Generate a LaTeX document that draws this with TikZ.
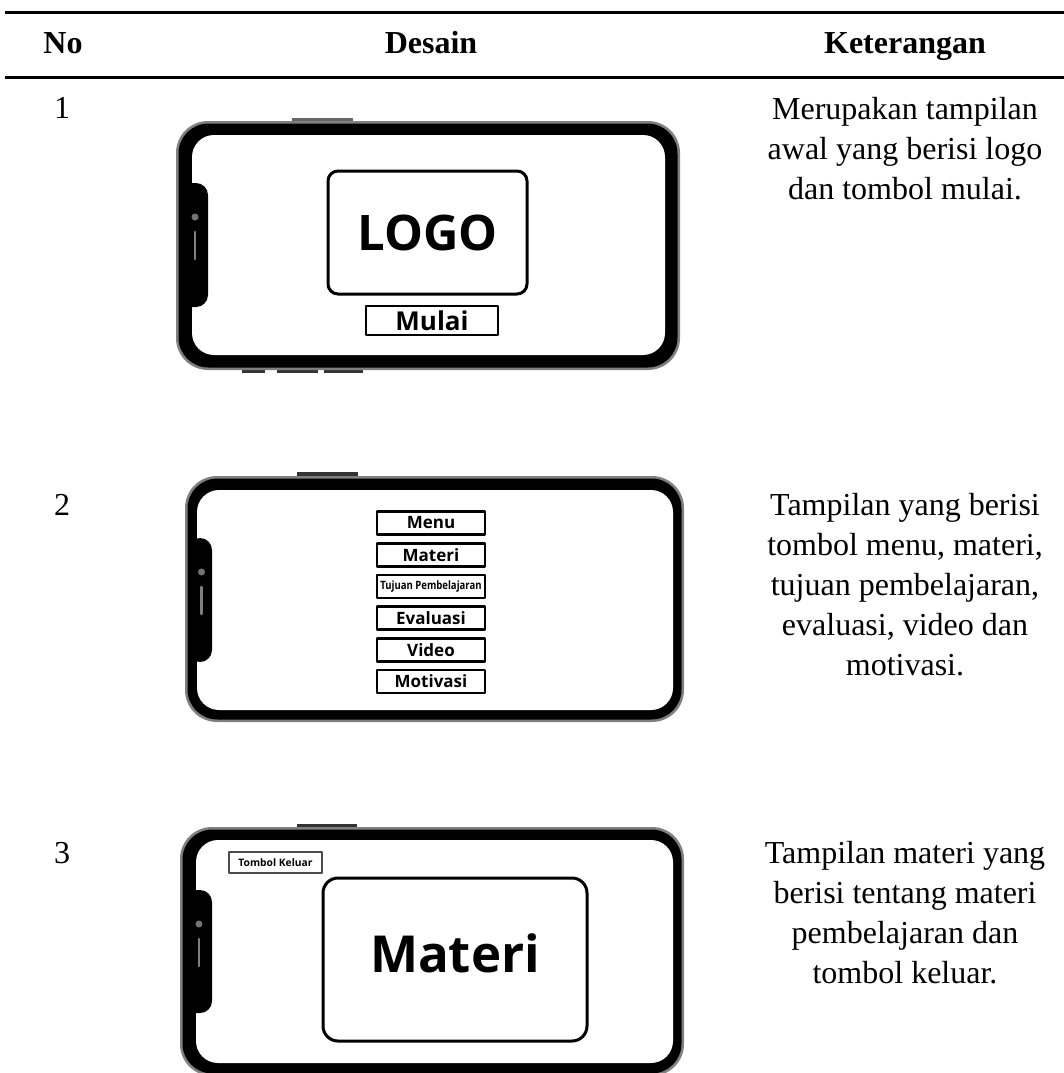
\documentclass[tikz,border=0pt]{standalone}
\usepackage{fontspec}
\setmainfont{Liberation Serif}
\newfontfamily\uifont{Open Sans}

% phone body: outer box, then screen box
\newcommand{\drawphone}[8]{%
	\fill[black!50, rounded corners=32] (#1,#2) rectangle (#3,#4);
	\fill[black, rounded corners=30] ({#1+2.5},{#2+2.5}) rectangle ({#3-2.5},{#4-2.5});
	\fill[white, rounded corners=22] (#5,#6) rectangle (#7,#8);
}
% notch with camera and speaker
\newcommand{\drawnotch}[4]{%
	\fill[black, rounded corners=12] (#1,#3) rectangle (#2,#4);
	\fill[black!55] ({(#1+#2)/2+1.5},{#3+34}) circle (3.5);
	\draw[black!50, line width=2.5, line cap=round] ({(#1+#2)/2+1.5},{#3+49}) -- ({(#1+#2)/2+1.5},{#3+76});
}

\begin{document}
\begin{tikzpicture}[x=1pt, y=-1pt, line join=round]
	\tikzset{
		txt/.style={anchor=base, font=\fontsize{32}{40}\selectfont},
		head/.style={anchor=base, font=\fontsize{32}{40}\selectfont\bfseries},
		ket/.style={anchor=base, align=center, font=\fontsize{32}{40}\selectfont},
		btn/.style={draw, line width=2.5, minimum width=108, minimum height=23, inner sep=0,
			font=\uifont\bfseries\fontsize{17}{17}\selectfont},
		bigbox/.style={draw, line width=3, rounded corners=10, inner sep=0},
		ui/.style={font=\uifont\bfseries}
	}
	\useasboundingbox (0,0) rectangle (1064,1073);
	% table rules
	\draw[line width=3] (5,12.5) -- (1064,12.5);
	\draw[line width=3] (5,77) -- (1064,77);
	\node[head] (hno) at (63,53) {No};
	\node[head] (hdesain) at (431,53) {Desain};
	\node[head] (hket) at (905,53) {Keterangan};

	% row numbers
	\foreach \n/\y in {1/118, 2/515, 3/863}
	\node[txt] (n\n) at (62,\y) {\n};

	% --- phone 1 ---
	\fill[black!60] (292,118) rectangle (353,123);
	\foreach \a/\b in {242/265, 277/318, 324/363}
	\fill[black!80] (\a,366) rectangle (\b,373);
	\drawphone{176}{121}{680}{370}{192}{135}{665}{355}
	\drawnotch{179}{208}{183}{307}
	\node[bigbox, minimum width=199, minimum height=123, ui,
		font=\uifont\bfseries\fontsize{49}{49}\selectfont] (logo) at (427.5,232.5) {LOGO};
	\node[draw, line width=2.5, minimum width=132, minimum height=29, inner sep=0,
		font=\uifont\bfseries\fontsize{26}{26}\selectfont] (mulai) at (432,320.5) {Mulai};

	% --- phone 2 ---
	\fill[black!80] (297,472) rectangle (358,478);
	\drawphone{185}{476}{684}{722}{197}{490}{673}{710}
	\drawnotch{188}{212}{538}{662}
	\foreach \n/\y/\t in {menu/523/Menu, materi/555/Materi, evaluasi/618/Evaluasi,
		video/650/Video, motivasi/681.5/Motivasi}
	\node[btn] (\n) at (431,\y) {\t};
	\node[btn] (tujuan) at (431,586.5)
		{\fontsize{11.5}{11.5}\selectfont\scalebox{0.83}[1]{Tujuan Pembelajaran}};

	% --- phone 3 ---
	\fill[black!80] (297,824) rectangle (357,829);
	\drawphone{180}{827}{684}{1076}{196}{840}{673}{1063}
	\drawnotch{183}{212}{890}{1013}
	\node[draw=black!70, line width=2, minimum width=93, minimum height=21, inner sep=0,
		font=\uifont\bfseries\fontsize{10.3}{10.3}\selectfont] (keluar) at (275.5,862.5) {Tombol Keluar};
	\node[bigbox, rounded corners=15, minimum width=264, minimum height=163] (materibox) at (455,959.5) {};
	\node[font=\uifont\bfseries\fontsize{51}{51}\selectfont, inner sep=0] (materitxt) at (455,953) {Materi};

	% descriptions (base = last line)
	\node[ket] (k1) at (905,199) {Merupakan tampilan\\awal yang berisi logo\\dan tombol mulai.};
	\node[ket] (k2) at (905,675) {Tampilan yang berisi\\tombol menu, materi,\\tujuan pembelajaran,\\evaluasi, video dan\\motivasi.};
	\node[ket] (k3) at (905,983) {Tampilan materi yang\\berisi tentang materi\\pembelajaran dan\\tombol keluar.};
\end{tikzpicture}
\end{document}
